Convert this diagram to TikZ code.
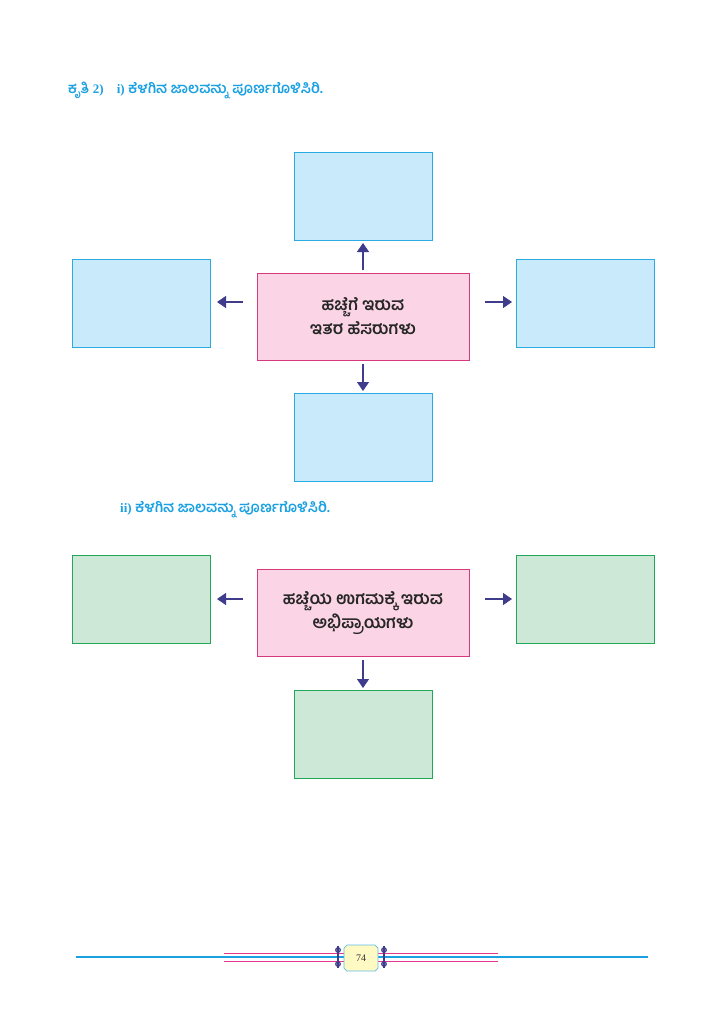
\documentclass[tikz,border=0pt]{standalone}
\usepackage{fontspec}
\newfontfamily\kan[Script=Kannada]{Hind Mysuru}
\setmainfont{Liberation Serif}
\usetikzlibrary{arrows.meta,shapes.geometric}
\definecolor{tcyan}{HTML}{1BA1E2}
\definecolor{bfill}{HTML}{C9EAFA}
\definecolor{bdraw}{HTML}{2AACE2}
\definecolor{pfill}{HTML}{FBD5E5}
\definecolor{pdraw}{HTML}{D6397E}
\definecolor{gfill}{HTML}{CDE8D6}
\definecolor{gdraw}{HTML}{22A75A}
\definecolor{arr}{HTML}{3F3C8C}
\definecolor{pline}{HTML}{E6358F}
\definecolor{badge}{HTML}{FFF9C4}
\tikzset{
  bluebox/.style={draw=bdraw,fill=bfill,line width=0.9pt,minimum width=138pt,minimum height=88pt,inner sep=0pt},
  greenbox/.style={draw=gdraw,fill=gfill,line width=0.9pt,minimum width=138pt,minimum height=88pt,inner sep=0pt},
  pinkbox/.style={draw=pdraw,fill=pfill,line width=0.9pt,minimum width=212pt,minimum height=87pt,inner sep=0pt,align=center,font=\kan\bfseries\fontsize{17}{24}\selectfont,text=black!85},
  arrw/.style={draw=arr,line width=1.1pt,-{Triangle[length=9pt,width=12pt]}},
  ttl/.style={anchor=west,text=tcyan,font=\kan\bfseries\fontsize{14.5}{16}\selectfont,inner sep=0pt}
}
\begin{document}
\begin{tikzpicture}[x=1pt,y=-1pt]
\useasboundingbox (0,0) rectangle (724,1024);
\fill[white] (0,0) rectangle (724,1024);
% titles
\node[ttl] (t1) at (68,91) {ಕೃತಿ {\fontspec{Liberation Serif}\bfseries\fontsize{13}{15}\selectfont 2)}\hspace{13pt}{\fontspec{Liberation Serif}\bfseries\fontsize{13}{15}\selectfont i)} ಕೆಳಗಿನ ಜಾಲವನ್ನು ಪೂರ್ಣಗೊಳಿಸಿರಿ.};
\node[ttl] (t2) at (120,510) {{\fontspec{Liberation Serif}\bfseries\fontsize{13}{15}\selectfont ii)} ಕೆಳಗಿನ ಜಾಲವನ್ನು ಪೂರ್ಣಗೊಳಿಸಿರಿ.};
% diagram 1
\node[pinkbox] (c1) at (363,316.5) {ಹಚ್ಚೆಗೆ ಇರುವ\\ಇತರ ಹೆಸರುಗಳು};
\node[bluebox] (n1) at (363,196) {};
\node[bluebox] (w1) at (141,303) {};
\node[bluebox] (e1) at (585.5,303) {};
\node[bluebox] (s1) at (363,437) {};
\coordinate (a1s) at (363,270); \coordinate (a1e) at (363,243);
\coordinate (b1s) at (243,302); \coordinate (b1e) at (217,302);
\coordinate (c1s) at (485,302); \coordinate (c1e) at (512,302);
\coordinate (d1s) at (363,364); \coordinate (d1e) at (363,391);
\draw[arrw] (a1s) -- (a1e);
\draw[arrw] (b1s) -- (b1e);
\draw[arrw] (c1s) -- (c1e);
\draw[arrw] (d1s) -- (d1e);
% diagram 2
\node[pinkbox] (c2) at (363,613) {ಹಚ್ಚೆಯ ಉಗಮಕ್ಕೆ ಇರುವ\\ಅಭಿಪ್ರಾಯಗಳು};
\node[greenbox] (w2) at (141,599) {};
\node[greenbox] (e2) at (585.5,599) {};
\node[greenbox] (s2) at (363,734) {};
\coordinate (b2s) at (243,599); \coordinate (b2e) at (217,599);
\coordinate (c2s) at (485,599); \coordinate (c2e) at (512,599);
\coordinate (d2s) at (363,660); \coordinate (d2e) at (363,688);
\draw[arrw] (b2s) -- (b2e);
\draw[arrw] (c2s) -- (c2e);
\draw[arrw] (d2s) -- (d2e);
% footer
\draw[pline,line width=1pt] (224,953) -- (498,953);
\draw[pline,line width=1pt] (224,961) -- (498,961);
\draw[tcyan,line width=1.6pt] (76,957) -- (648,957);
\foreach \x in {338,384}{
  \draw[arr,line width=1pt,fill=arr!60] (\x,950) circle (2.4pt);
  \draw[arr,line width=1pt,fill=arr!60] (\x,964) circle (2.4pt);
  \draw[arr,line width=1.4pt] (\x,946) -- (\x,968);
}
\draw[tcyan!70,fill=badge,line width=0.7pt] (347,945) -- (375,945) -- (378,948) -- (378,968) -- (375,971) -- (347,971) -- (344,968) -- (344,948) -- cycle;
\node[font=\fontsize{10}{12}\selectfont,text=black!80] (pg) at (361,958) {74};
\end{tikzpicture}
\end{document}
